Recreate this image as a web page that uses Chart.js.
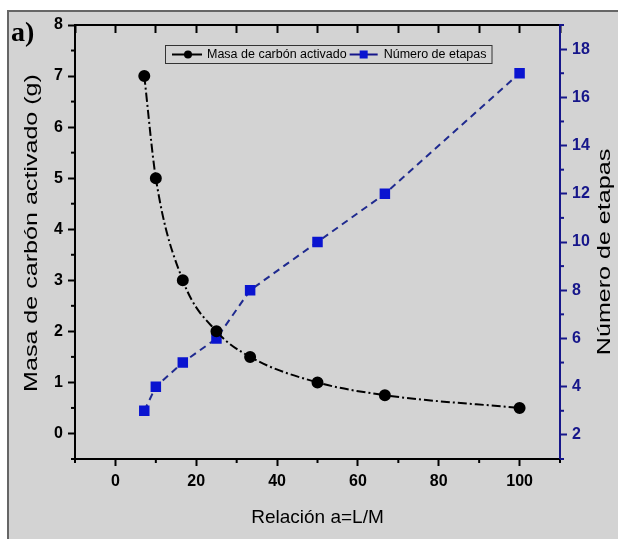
<!DOCTYPE html>
<html>
<head>
<meta charset="utf-8">
<script src="https://cdn.jsdelivr.net/npm/chart.js@4.4.1/dist/chart.umd.min.js"></script>
<style>
  html, body { margin: 0; padding: 0; background: #fff; }
</style>
</head>
<body>
<canvas id="myChart" width="618" height="539"></canvas>
<script>
// data
const relacion = [7.14, 10, 16.67, 25, 33.33, 50, 66.67, 100];
const masaCarbon = [7, 5, 3, 2, 1.5, 1, 0.75, 0.5];
const numEtapas = [3, 4, 5, 6, 8, 10, 12, 17];

// labelled (major) ticks
const xMajor = [0, 20, 40, 60, 80, 100];
const yMajor = [0, 1, 2, 3, 4, 5, 6, 7, 8];
const y2Major = [2, 4, 6, 8, 10, 12, 14, 16, 18];

const NAVY = '#16168a';
const BG = '#d3d3d3';

const masaPts = relacion.map((x, i) => ({x: x, y: masaCarbon[i]}));
const etapasPts = relacion.map((x, i) => ({x: x, y: numEtapas[i]}));

function majorColor(list, col) {
  return function(c) {
    return (c.tick && list.includes(c.tick.value)) ? col : 'rgba(0,0,0,0)';
  };
}

// gray panel behind everything
const panelBg = {
  id: 'panelBg',
  beforeDraw(chart) {
    const ctx = chart.ctx;
    ctx.save();
    ctx.fillStyle = '#fff';
    ctx.fillRect(0, 0, chart.width, chart.height);
    ctx.fillStyle = BG;
    ctx.fillRect(8, 11, chart.width - 8, chart.height - 11);
    ctx.strokeStyle = '#666';
    ctx.lineWidth = 2;
    ctx.beginPath();
    ctx.moveTo(8, chart.height);
    ctx.lineTo(8, 11);
    ctx.lineTo(chart.width, 11);
    ctx.stroke();
    ctx.fillStyle = '#000';
    ctx.font = 'bold 28px "Liberation Serif"';
    ctx.textBaseline = 'alphabetic';
    ctx.fillText('a)', 11, 41);
    ctx.restore();
  }
};

function vertTitle(ctx, text, x, y) {
  ctx.save();
  ctx.translate(x, y);
  ctx.rotate(-Math.PI / 2);
  ctx.scale(1.32, 1);
  ctx.textAlign = 'center';
  ctx.textBaseline = 'middle';
  ctx.font = '19px "Liberation Sans"';
  ctx.fillStyle = '#000';
  ctx.fillText(text, 0, 0);
  ctx.restore();
}

// short minor ticks, legend box, vertical titles
const extras = {
  id: 'extras',
  afterDraw(chart) {
    const ctx = chart.ctx;
    const s = chart.scales;
    ctx.save();
    ctx.lineWidth = 2;

    ctx.strokeStyle = '#000';
    s.x.ticks.forEach(t => {
      if (xMajor.includes(t.value)) return;
      const px = s.x.getPixelForValue(t.value);
      ctx.beginPath(); ctx.moveTo(px, s.x.top); ctx.lineTo(px, s.x.top + 4); ctx.stroke();
    });
    s.y.ticks.forEach(t => {
      if (yMajor.includes(t.value)) return;
      const py = s.y.getPixelForValue(t.value);
      ctx.beginPath(); ctx.moveTo(s.y.right, py); ctx.lineTo(s.y.right - 4, py); ctx.stroke();
    });
    ctx.strokeStyle = NAVY;
    s.y2.ticks.forEach(t => {
      if (y2Major.includes(t.value)) return;
      const py = s.y2.getPixelForValue(t.value);
      ctx.beginPath(); ctx.moveTo(s.y2.left, py); ctx.lineTo(s.y2.left + 4, py); ctx.stroke();
    });

    // legend
    const area = chart.chartArea;
    const lx = area.left + 90, ly = area.top + 20, lh = 18;
    ctx.font = '12.5px "Liberation Sans"';
    ctx.textBaseline = 'middle';
    const t1 = 'Masa de carbón activado', t2 = 'Número de etapas';
    const w1 = ctx.measureText(t1).width, w2 = ctx.measureText(t2).width;
    const lw = 7 + 30 + 5 + w1 + 3 + 28 + 6 + w2 + 5;
    ctx.fillStyle = BG;
    ctx.fillRect(lx, ly, lw, lh);
    ctx.strokeStyle = '#333';
    ctx.lineWidth = 1;
    ctx.strokeRect(lx + 0.5, ly + 0.5, lw, lh);
    const cy = ly + lh / 2 + 0.5;
    let cx = lx + 7;
    ctx.lineWidth = 2;
    ctx.strokeStyle = '#000';
    ctx.beginPath(); ctx.moveTo(cx, cy); ctx.lineTo(cx + 30, cy); ctx.stroke();
    ctx.fillStyle = '#000';
    ctx.beginPath(); ctx.arc(cx + 16, cy, 4, 0, Math.PI * 2); ctx.fill();
    cx += 35;
    ctx.fillText(t1, cx, cy);
    cx += w1 + 3;
    ctx.strokeStyle = NAVY;
    ctx.beginPath(); ctx.moveTo(cx, cy); ctx.lineTo(cx + 28, cy); ctx.stroke();
    ctx.fillStyle = '#0a14d0';
    ctx.fillRect(cx + 10, cy - 4, 8, 8);
    cx += 34;
    ctx.fillStyle = '#000';
    ctx.fillText(t2, cx, cy);
    ctx.restore();

    vertTitle(ctx, 'Masa de carbón activado (g)', 32, 233);
    vertTitle(ctx, 'Número de etapas', 605, 252);
  }
};

const tickFont = { family: 'Liberation Sans', size: 16, weight: 'bold' };

const ctx = document.getElementById('myChart').getContext('2d');
const chart = new Chart(ctx, {
  type: 'line',
  data: {
    datasets: [
      {
        label: 'Masa de carbón activado',
        data: masaPts,
        xAxisID: 'x',
        yAxisID: 'y',
        borderColor: '#000',
        backgroundColor: '#000',
        borderWidth: 2,
        borderDash: [9, 3, 2, 3],
        cubicInterpolationMode: 'monotone',
        pointRadius: 5,
        pointBackgroundColor: '#000',
        pointBorderColor: '#000',
        fill: false
      },
      {
        label: 'Número de etapas',
        data: etapasPts,
        xAxisID: 'x',
        yAxisID: 'y2',
        borderColor: '#1f2a8f',
        backgroundColor: '#0a14d0',
        borderWidth: 2,
        borderDash: [7, 5],
        tension: 0,
        pointStyle: 'rect',
        pointRadius: 6,
        pointBackgroundColor: '#0a14d0',
        pointBorderColor: '#0a14d0',
        fill: false
      }
    ]
  },
  options: {
    responsive: false,
    animation: false,
    layout: { padding: 0 },
    plugins: {
      legend: { display: false },
      tooltip: { enabled: false }
    },
    scales: {
      x: {
        type: 'linear',
        position: 'bottom',
        min: -10, max: 110,
        ticks: {
          stepSize: 10, autoSkip: false, maxRotation: 0, padding: 6,
          color: '#000', font: tickFont,
          callback: v => xMajor.includes(v) ? v : ''
        },
        grid: { drawOnChartArea: false, tickLength: 7, tickWidth: 2, tickColor: majorColor(xMajor, '#000') },
        border: { color: '#000', width: 2 },
        title: {
          display: true, text: 'Relación a=L/M', color: '#000',
          font: { family: 'Liberation Sans', size: 19 }, padding: { top: 0, bottom: 10 }
        },
        afterFit: s => { s.height = 80; }
      },
      x2: {
        type: 'linear',
        position: 'top',
        min: -10, max: 110,
        ticks: { display: false, stepSize: 10 },
        grid: { drawOnChartArea: false, tickLength: -8, tickWidth: 2, tickColor: '#000' },
        border: { color: '#000', width: 2 },
        afterFit: s => { s.height = 25; }
      },
      y: {
        type: 'linear',
        position: 'left',
        min: -0.5, max: 8,
        ticks: {
          stepSize: 0.5, autoSkip: false, padding: 5,
          color: '#000', font: tickFont,
          callback: v => yMajor.includes(v) ? v : ''
        },
        grid: { drawOnChartArea: false, tickLength: 7, tickWidth: 2, tickColor: majorColor(yMajor, '#000') },
        border: { color: '#000', width: 2 },
        title: { display: false },
        afterFit: s => { s.width = 75; }
      },
      y2: {
        type: 'linear',
        position: 'right',
        min: 1, max: 19,
        ticks: {
          stepSize: 1, autoSkip: false, padding: 5,
          color: NAVY, font: tickFont,
          callback: v => y2Major.includes(v) ? v : ''
        },
        grid: { drawOnChartArea: false, tickLength: 7, tickWidth: 2, tickColor: majorColor(y2Major, NAVY) },
        border: { color: NAVY, width: 2 },
        title: { display: false },
        afterFit: s => { s.width = 58; }
      }
    }
  },
  plugins: [panelBg, extras]
});
</script>
</body>
</html>
